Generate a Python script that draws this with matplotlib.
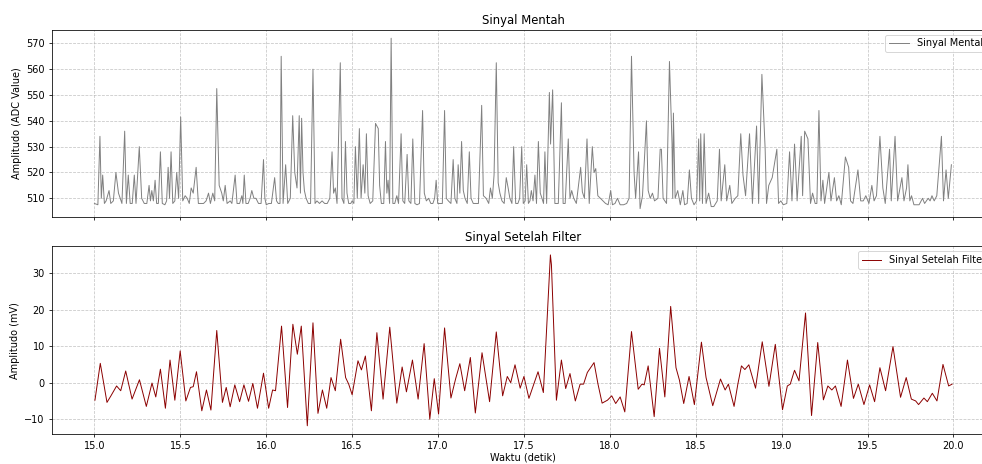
import numpy as np
import matplotlib
matplotlib.use("Agg")
import matplotlib.pyplot as plt

# sinyal mentah (waktu, nilai ADC)
raw_t = [15.000, 15.020, 15.032, 15.040, 15.048, 15.058, 15.068, 15.085, 15.095, 15.110,
         15.125, 15.140, 15.160, 15.176, 15.186, 15.197, 15.208, 15.220, 15.232, 15.242,
         15.261, 15.275, 15.290, 15.305, 15.318, 15.326, 15.334, 15.343, 15.353, 15.362,
         15.372, 15.384, 15.395, 15.410, 15.420, 15.429, 15.437, 15.446, 15.456, 15.468,
         15.479, 15.490, 15.502, 15.514, 15.528, 15.540, 15.552, 15.563, 15.575, 15.592,
         15.605, 15.620, 15.635, 15.650, 15.664, 15.675, 15.689, 15.700, 15.712, 15.726,
         15.741, 15.750, 15.761, 15.772, 15.790, 15.800, 15.819, 15.830, 15.845, 15.858,
         15.864, 15.872, 15.882, 15.895, 15.906, 15.916, 15.928, 15.940, 15.955, 15.970,
         15.984, 15.992, 16.000, 16.015, 16.030, 16.049, 16.060, 16.070, 16.080, 16.087,
         16.098, 16.113, 16.125, 16.140, 16.154, 16.166, 16.179, 16.192, 16.199, 16.206,
         16.214, 16.222, 16.232, 16.245, 16.258, 16.272, 16.284, 16.295, 16.310, 16.325,
         16.340, 16.355, 16.370, 16.383, 16.392, 16.402, 16.412, 16.431, 16.441, 16.452,
         16.461, 16.470, 16.480, 16.492, 16.500, 16.510, 16.519, 16.530, 16.542, 16.552,
         16.564, 16.574, 16.583, 16.593, 16.605, 16.620, 16.636, 16.652, 16.660, 16.670,
         16.684, 16.694, 16.702, 16.709, 16.718, 16.727, 16.737, 16.748, 16.760, 16.770,
         16.785, 16.795, 16.806, 16.820, 16.830, 16.842, 16.853, 16.865, 16.878, 16.892,
         16.910, 16.920, 16.932, 16.945, 16.958, 16.970, 16.980, 16.989, 16.998, 17.012,
         17.025, 17.038, 17.048, 17.060, 17.075, 17.088, 17.098, 17.110, 17.117, 17.127,
         17.137, 17.147, 17.157, 17.170, 17.182, 17.192, 17.205, 17.220, 17.235, 17.254,
         17.264, 17.280, 17.295, 17.305, 17.316, 17.326, 17.339, 17.350, 17.360, 17.372,
         17.385, 17.397, 17.408, 17.418, 17.430, 17.440, 17.452, 17.465, 17.475, 17.487,
         17.496, 17.507, 17.516, 17.526, 17.535, 17.543, 17.553, 17.564, 17.573, 17.584,
         17.595, 17.605, 17.614, 17.622, 17.632, 17.648, 17.655, 17.667, 17.680, 17.690,
         17.700, 17.718, 17.728, 17.740, 17.758, 17.768, 17.778, 17.790, 17.805, 17.830,
         17.840, 17.852, 17.867, 17.880, 17.898, 17.908, 17.918, 17.930, 17.945, 17.960,
         17.975, 17.990, 18.005, 18.015, 18.030, 18.044, 18.060, 18.080, 18.098, 18.112,
         18.126, 18.141, 18.150, 18.167, 18.176, 18.190, 18.213, 18.223, 18.235, 18.248,
         18.260, 18.280, 18.293, 18.300, 18.310, 18.330, 18.347, 18.362, 18.366, 18.370,
         18.380, 18.395, 18.410, 18.425, 18.435, 18.450, 18.463, 18.475, 18.490, 18.505,
         18.517, 18.523, 18.529, 18.539, 18.549, 18.560, 18.575, 18.590, 18.605, 18.625,
         18.638, 18.648, 18.669, 18.680, 18.698, 18.710, 18.730, 18.745, 18.762, 18.775,
         18.790, 18.813, 18.830, 18.854, 18.866, 18.885, 18.904, 18.912, 18.925, 18.945,
         18.972, 18.982, 18.995, 19.010, 19.030, 19.046, 19.060, 19.075, 19.083, 19.090,
         19.114, 19.122, 19.134, 19.153, 19.168, 19.180, 19.195, 19.205, 19.217, 19.229,
         19.240, 19.250, 19.275, 19.287, 19.307, 19.320, 19.333, 19.347, 19.371, 19.390,
         19.401, 19.415, 19.444, 19.460, 19.475, 19.490, 19.508, 19.525, 19.538, 19.552,
         19.572, 19.589, 19.603, 19.628, 19.638, 19.660, 19.675, 19.700, 19.712, 19.727,
         19.735, 19.746, 19.756, 19.770, 19.800, 19.820, 19.832, 19.853, 19.864, 19.875,
         19.888, 19.903, 19.930, 19.942, 19.957, 19.970, 19.988]
raw_v = [508, 507.5, 534, 510, 519, 508, 509, 513, 508, 509,
         520, 512, 508, 536, 508, 519, 508, 508, 519, 508,
         530, 510, 508, 508, 515, 509, 513, 509, 517, 508,
         508, 528, 508, 507.5, 509, 522, 510, 528, 508, 509,
         520, 510, 541.5, 509, 511, 510, 508, 514, 512, 522,
         508, 508, 508, 509, 512, 508, 512, 509, 552.5, 515,
         512, 509, 515, 508, 509, 508, 519, 508, 508, 511,
         508, 519, 508, 508, 510, 513, 510, 510, 508, 508,
         525, 510, 507.5, 508, 508, 518, 509, 508, 508, 565,
         508, 523, 508, 510, 542, 520, 514, 542, 512, 541,
         520, 513, 510, 508, 508, 560, 508, 509, 508, 509,
         508, 508, 510, 528, 512, 514, 508, 562.5, 510, 508,
         532, 512, 508, 508, 509, 508, 530, 510, 537, 510,
         523, 512, 535, 511, 508, 509, 539, 537, 515, 508,
         508, 532, 512, 517, 508, 572, 508, 508, 511, 508,
         535, 509, 508, 527, 509, 508, 533, 508, 507.5, 508,
         544, 512, 509, 510, 508, 508, 510, 517, 508, 508,
         508, 544, 510, 509, 508, 525, 510, 508, 523, 512,
         532, 513, 510, 508, 528, 510, 508, 508, 508, 546,
         511, 510, 508, 514, 510, 519, 562.5, 516, 512, 509,
         508, 518, 514, 510, 508, 530, 508, 508, 510, 530,
         508, 509, 523, 508, 509, 513, 509, 519, 508, 532,
         512, 510, 508, 528, 508, 551, 531, 552, 508, 508,
         508, 547, 508, 508, 533, 510, 513, 510, 508, 522,
         512.5, 510, 533, 508, 530, 520, 521.5, 511, 510, 509,
         508, 507.5, 513, 507.5, 508, 510, 507.5, 507.5, 508, 510,
         565, 520, 510, 528, 506, 511, 540, 513, 510, 512,
         509, 510, 529, 529, 510, 508, 563, 531, 510, 543,
         510, 513, 507.5, 513, 507.5, 508, 521, 510, 507.5, 509,
         533, 509, 535, 508, 535, 508, 512, 506.8, 506.8, 509,
         529, 509, 523, 509, 515, 508, 510, 511, 535, 519,
         511, 535, 508, 538, 508, 558, 529, 508, 515, 518,
         529, 508, 509, 507.5, 508, 528, 509, 531, 520, 509,
         534, 511, 536, 533, 508, 512, 508, 508, 544, 509,
         517, 508, 520, 509, 518, 509, 511, 507.5, 526, 522,
         509, 508, 521, 509, 509, 511, 508, 515, 509, 511,
         534, 514, 508, 529, 509, 534, 509, 518, 509, 514,
         523, 509, 511, 507.5, 507.5, 510, 508, 510, 509, 511,
         509, 511, 534, 509, 521, 510, 523]

# sinyal setelah filter (waktu, mV)
filt_t = [15.003, 15.034, 15.073, 15.096, 15.129, 15.153, 15.182, 15.219, 15.262, 15.302,
          15.335, 15.357, 15.384, 15.413, 15.440, 15.468, 15.499, 15.532, 15.559, 15.575,
          15.594, 15.625, 15.652, 15.678, 15.712, 15.745, 15.767, 15.790, 15.817, 15.845,
          15.870, 15.897, 15.922, 15.949, 15.984, 16.014, 16.037, 16.054, 16.089, 16.124,
          16.155, 16.181, 16.204, 16.239, 16.272, 16.301, 16.327, 16.352, 16.377, 16.402,
          16.433, 16.462, 16.480, 16.500, 16.534, 16.554, 16.577, 16.612, 16.644, 16.680,
          16.719, 16.760, 16.791, 16.816, 16.851, 16.884, 16.919, 16.952, 16.978, 17.003,
          17.038, 17.075, 17.102, 17.127, 17.155, 17.188, 17.217, 17.256, 17.300, 17.339,
          17.376, 17.403, 17.423, 17.448, 17.478, 17.500, 17.529, 17.582, 17.613, 17.654,
          17.660, 17.689, 17.718, 17.743, 17.768, 17.799, 17.827, 17.847, 17.869, 17.908,
          17.931, 17.955, 17.986, 18.011, 18.034, 18.060, 18.087, 18.126, 18.165, 18.187,
          18.200, 18.223, 18.258, 18.289, 18.320, 18.354, 18.370, 18.385, 18.405, 18.430,
          18.461, 18.492, 18.533, 18.560, 18.599, 18.644, 18.671, 18.690, 18.723, 18.745,
          18.766, 18.786, 18.809, 18.848, 18.887, 18.926, 18.963, 19.005, 19.033, 19.050,
          19.075, 19.101, 19.139, 19.174, 19.210, 19.243, 19.269, 19.292, 19.313, 19.346,
          19.383, 19.418, 19.446, 19.479, 19.512, 19.541, 19.572, 19.605, 19.648, 19.692,
          19.725, 19.755, 19.780, 19.797, 19.828, 19.848, 19.877, 19.904, 19.939, 19.972,
          19.992]
filt_v = [-4.8, 5.3, -5.4, -3.6, -0.9, -2.2, 3.2, -4.5, 0.8, -6.5,
          -0.1, -3.9, 3.7, -7.0, 6.2, -4.8, 8.7, -5.0, -1.3, -1.1,
          3.0, -7.7, -2.0, -7.5, 14.3, -5.4, -1.3, -6.6, -0.6, -5.2,
          -0.6, -5.1, -0.2, -7.0, 2.6, -7.0, -2.0, -2.2, 15.5, -6.8,
          16.0, 7.8, 15.5, -11.8, 16.4, -8.4, -2.0, -7.0, 1.4, -2.2,
          11.9, 1.4, -0.4, -3.3, 6.0, 3.5, 7.3, -7.7, 13.7, -4.5,
          15.2, -5.6, 4.3, -2.5, 6.2, -4.5, 10.7, -10.0, 1.1, -8.6,
          15.0, -4.2, 1.0, 5.2, -2.2, 6.9, -8.3, 8.2, -5.2, 13.9,
          -3.6, 1.7, 0.0, 4.9, -1.5, 1.7, -4.3, 3.0, -2.7, 35.0,
          32.3, -4.8, 6.2, -1.6, 2.5, -5.0, -0.4, -0.4, 2.8, 5.5,
          -0.4, -5.6, -4.8, -3.6, -5.7, -3.9, -8.0, 14.0, -1.8, -0.4,
          -0.6, 4.6, -9.3, 9.4, -3.9, 20.9, 12.3, 4.1, 0.7, -5.7,
          1.7, -6.0, 11.1, 1.4, -6.3, 1.0, -2.0, -0.4, -6.5, -0.4,
          4.6, 3.6, 4.9, -1.5, 11.2, -1.0, 10.5, -7.4, -0.9, -0.4,
          3.4, 0.5, 19.1, -9.0, 11.0, -4.7, -0.9, -2.0, -0.9, -6.5,
          6.2, -4.3, -0.4, -6.0, -0.6, -5.2, 4.1, -2.2, 9.9, -4.0,
          1.4, -4.5, -5.0, -6.0, -4.2, -5.2, -2.9, -5.0, 5.0, -0.9,
          -0.4]

dpi = 70
fig = plt.figure(figsize=(982 / dpi, 464 / dpi), dpi=dpi)
# sumbu sengaja melebar melewati tepi kanan gambar
ax1 = fig.add_axes([0.0525, 0.532, 0.9607, 0.404])
ax2 = fig.add_axes([0.0525, 0.064, 0.9607, 0.405], sharex=ax1)

ax1.plot(raw_t, raw_v, color='gray', linewidth=1, label='Sinyal Mentah')
ax1.set_title('Sinyal Mentah')
ax1.set_ylabel('Amplitudo (ADC Value)')
ax1.grid(True, linestyle='--', alpha=0.7)
ax1.legend(loc='upper right')
ax1.set_yticks([510, 520, 530, 540, 550, 560, 570])
plt.setp(ax1.get_xticklabels(), visible=False)

ax2.plot(filt_t, filt_v, color='darkred', linewidth=1, label='Sinyal Setelah Filter')
ax2.set_title('Sinyal Setelah Filter')
ax2.set_xlabel('Waktu (detik)', labelpad=1.5)
ax2.set_ylabel('Amplitudo (mV)')
ax2.grid(True, linestyle='--', alpha=0.7)
ax2.legend(loc='upper right')
ax2.set_xticks(np.arange(15.0, 20.01, 0.5))

fig.savefig('out.png', dpi=dpi)
